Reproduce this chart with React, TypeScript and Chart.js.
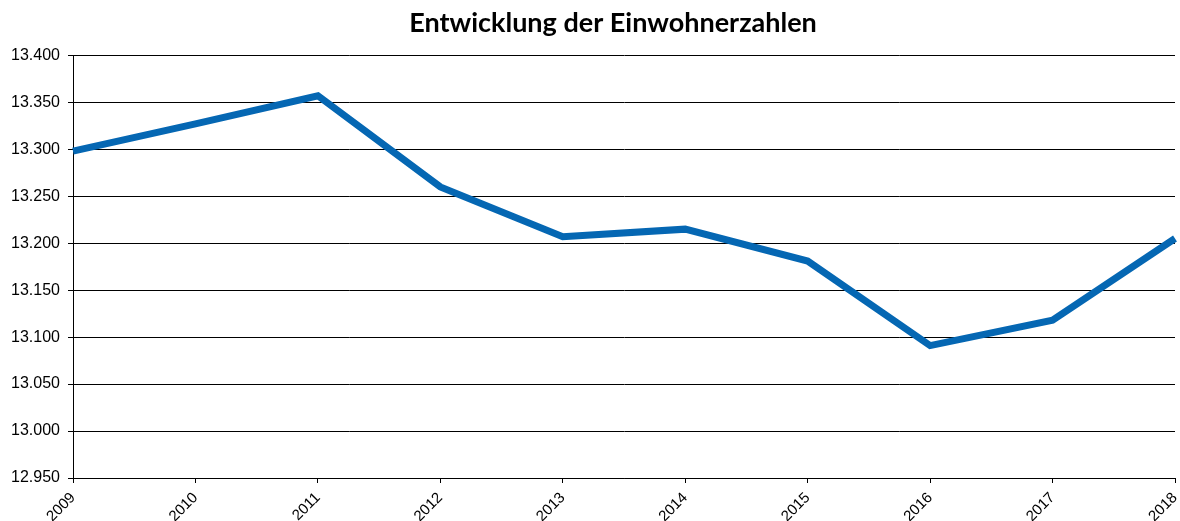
import React, { useEffect, useRef } from "react";
import { Chart, registerables } from "chart.js";

Chart.register(...registerables);

const TITLE = "Entwicklung der Einwohnerzahlen";
const YEARS = ["2009", "2010", "2011", "2012", "2013", "2014", "2015", "2016", "2017", "2018"];
const EINWOHNER = [13298, 13327, 13357, 13260, 13207, 13215, 13181, 13091, 13118, 13205];
const Y_MIN = 12950;
const Y_MAX = 13400;
const Y_STEP = 50;

function formatDe(v: number): string {
  const n = Math.round(v);
  const th = Math.floor(n / 1000);
  const rest = String(n % 1000).padStart(3, "0");
  return th + "." + rest;
}

const shiftTitle = {
  id: "shiftTitle",
  afterLayout(chart: any) {
    const t = chart.titleBlock;
    if (t) {
      t.left += 51;
    }
  },
};

export default function App() {
  const ref = useRef<HTMLCanvasElement | null>(null);
  useEffect(() => {
    if (!ref.current) return;
    const chart = new Chart(ref.current, {
      type: "line",
      data: {
        labels: YEARS,
        datasets: [
          {
            label: "Einwohner",
            data: EINWOHNER,
            borderColor: "#0567B3",
            backgroundColor: "#0567B3",
            borderWidth: 7,
            pointRadius: 0,
            tension: 0,
            borderJoinStyle: "miter",
          },
        ],
      },
      plugins: [shiftTitle],
      options: {
        animation: false,
        responsive: false,
        maintainAspectRatio: false,
        layout: { padding: { left: 0, right: 5, top: 0, bottom: 0 } },
        plugins: {
          legend: { display: false },
          tooltip: { enabled: false },
          title: {
            display: true,
            text: TITLE,
            color: "#000",
            font: { family: "Lato", size: 27, weight: "bold" },
            padding: { top: 7, bottom: 16 },
          },
        },
        scales: {
          x: {
            offset: false,
            grid: {
              display: true,
              drawOnChartArea: false,
              drawTicks: true,
              tickLength: 5,
              color: "#000",
            },
            border: { color: "#000", width: 1 },
            ticks: {
              minRotation: 45,
              maxRotation: 45,
              color: "#000",
              padding: 6,
              font: { family: "Liberation Sans", size: 15 },
            },
            afterFit: (scale: any) => {
              scale.height = 43;
              scale.paddingRight = 0;
              scale.paddingLeft = 0;
            },
          },
          y: {
            min: Y_MIN,
            max: Y_MAX,
            grid: {
              color: "#000",
              lineWidth: 1,
              tickLength: 5,
            },
            border: { color: "#000", width: 1 },
            ticks: {
              stepSize: Y_STEP,
              color: "#000",
              padding: 8,
              font: { family: "Liberation Sans", size: 16 },
              callback: (v: any) => formatDe(Number(v)),
            },
            afterFit: (scale: any) => {
              scale.width = 73;
            },
          },
        },
      },
    });
    return () => chart.destroy();
  }, []);
  return (
    <div style={{ position: "absolute", left: 0, top: 0, width: 1180, height: 521, background: "#fff" }}>
      <canvas ref={ref} width={1180} height={521} style={{ display: "block" }} />
    </div>
  );
}
